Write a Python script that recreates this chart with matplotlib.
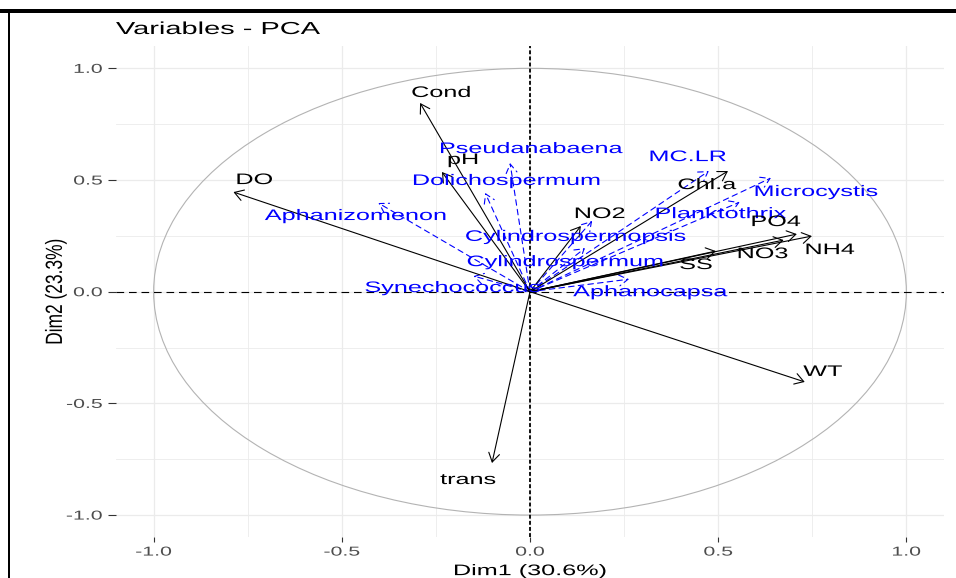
import matplotlib
matplotlib.use("Agg")
import matplotlib.pyplot as plt
from matplotlib.patches import FancyArrowPatch, Circle, Rectangle
from matplotlib.patheffects import AbstractPathEffect
from matplotlib.transforms import Affine2D

plt.rcParams["font.family"] = ["Liberation Sans", "DejaVu Sans"]
plt.rcParams["lines.scale_dashes"] = False

# Active variables: loadings on Dim1 / Dim2
active_names = ["Cond", "pH", "DO", "NO2", "Chl.a", "PO4", "NH4", "NO3", "SS", "WT", "trans"]
active_dim1 = [-0.292, -0.234, -0.788, 0.135, 0.526, 0.709, 0.749, 0.674, 0.494, 0.730, -0.101]
active_dim2 = [0.845, 0.536, 0.446, 0.294, 0.540, 0.258, 0.249, 0.231, 0.182, -0.404, -0.767]

# Supplementary variables (cyanobacteria genera and microcystin)
supp_names = ["Pseudanabaena", "Dolichospermum", "Aphanizomenon", "MC.LR", "Microcystis",
              "Planktothrix", "Cylindrospermopsis", "Cylindrospermum", "Synechococcus", "Aphanocapsa"]
supp_dim1 = [-0.053, -0.119, -0.403, 0.475, 0.640, 0.557, 0.165, 0.146, -0.150, 0.263]
supp_dim2 = [0.576, 0.442, 0.397, 0.540, 0.509, 0.401, 0.317, 0.195, 0.070, 0.056]

title = "Variables - PCA"
xlabel = "Dim1 (30.6%)"
ylabel = "Dim2 (23.3%)"
ticks = [-1.0, -0.5, 0.0, 0.5, 1.0]
tick_labels = ["-1.0", "-0.5", "0.0", "0.5", "1.0"]

# label placement relative to the arrow tip, in pixels (right, down)
label_offset = {
    "Cond": (21, -10), "pH": (21, -12), "DO": (21, -12), "NO2": (19, -12),
    "Chl.a": (-21, 14), "PO4": (-21, -12), "NH4": (18, 14), "NO3": (-21, 14),
    "SS": (-20, 14), "WT": (18, -10), "trans": (-24, 17),
    "Pseudanabaena": (21, -14), "Dolichospermum": (21, -12), "Aphanizomenon": (-23, 13),
    "MC.LR": (-21, -14), "Microcystis": (45, 14), "Planktothrix": (-19, 12),
    "Cylindrospermopsis": (-17, 16), "Cylindrospermum": (-20, 14),
    "Synechococcus": (-21, 12), "Aphanocapsa": (21, 13),
}

WIDEN = 1.65


class Widen(AbstractPathEffect):
    """Stretch text glyphs horizontally around an anchor of the ink box."""

    def __init__(self, factor, anchor="center"):
        super().__init__()
        self.factor = factor
        self.anchor = anchor

    def draw_path(self, renderer, gc, tpath, affine, rgbFace=None):
        ext = tpath.get_extents(affine)
        if self.anchor == "left":
            ax0 = ext.x0
        elif self.anchor == "right":
            ax0 = ext.x1
        else:
            ax0 = 0.5 * (ext.x0 + ext.x1)
        stretch = Affine2D().translate(-ax0, 0).scale(self.factor, 1).translate(ax0, 0)
        renderer.draw_path(gc, tpath, affine + stretch, rgbFace)


W, H = 956, 578
fig = plt.figure(figsize=(W / 100, H / 100), dpi=100)
left, right, top, bottom = 116, 944, 46, 537.4
ax = fig.add_axes([left / W, 1 - bottom / H, (right - left) / W, (bottom - top) / H])
ax.set_xlim(-1.1, 1.1)
ax.set_ylim(-1.1, 1.1)

for s in ax.spines.values():
    s.set_visible(False)

ax.set_xticks(ticks)
ax.set_yticks(ticks)
ax.set_xticklabels(tick_labels)
ax.set_yticklabels(tick_labels)
ax.set_xticks([-0.75, -0.25, 0.25, 0.75], minor=True)
ax.set_yticks([-0.75, -0.25, 0.25, 0.75], minor=True)
ax.grid(which="major", color="#EBEBEB", lw=0.9)
ax.grid(which="minor", color="#EBEBEB", lw=0.6)
ax.set_axisbelow(True)
ax.tick_params(which="minor", length=0)
ax.tick_params(axis="x", which="major", length=3.6, width=0.8, color="#333333",
               labelsize=9.3, labelcolor="#4D4D4D", pad=3)
ax.tick_params(axis="y", which="major", length=5.8, width=0.8, color="#333333",
               labelsize=9.3, labelcolor="#4D4D4D", pad=4)
for lbl in ax.get_xticklabels():
    lbl.set_path_effects([Widen(WIDEN, "center")])
for lbl in ax.get_yticklabels():
    lbl.set_path_effects([Widen(WIDEN, "right")])

# correlation circle
ax.add_patch(Circle((0, 0), 1.0, fill=False, ec="#B3B3B3", lw=0.8))

# reference lines
ax.axhline(0, color="black", lw=0.8, dashes=(5.5, 3.5))
ax.axvline(0, color="black", lw=1.3, dashes=(2.8, 1.6))


def draw_vars(names, xs, ys, color, ls):
    for name, x, y in zip(names, xs, ys):
        arr = FancyArrowPatch((0, 0), (x, y), arrowstyle="->,head_length=0.45,head_width=0.28",
                              mutation_scale=14, color=color, lw=0.8, linestyle=ls,
                              shrinkA=0, shrinkB=0)
        ax.add_patch(arr)
    for name, x, y in zip(names, xs, ys):
        dx, dy = label_offset[name]
        t = ax.annotate(name, (x, y), xytext=(dx, -dy), textcoords="offset pixels",
                        ha="center", va="center", fontsize=11, color=color)
        t.set_path_effects([Widen(WIDEN, "center")])


draw_vars(supp_names, supp_dim1, supp_dim2, "blue", (0, (4, 3)))
draw_vars(active_names, active_dim1, active_dim2, "black", "-")

t = ax.set_xlabel(xlabel, fontsize=11, color="black", labelpad=4)
t.set_path_effects([Widen(WIDEN, "center")])
t = ax.set_ylabel(ylabel, fontsize=12.5, color="black", labelpad=12)
t.set_path_effects([Widen(1.35, "center")])

t = fig.text(116 / W, 1 - 29.5 / H, title, fontsize=12.5, color="black", ha="left", va="center")
t.set_path_effects([Widen(WIDEN + 0.02, "left")])

# page frame
fig.add_artist(Rectangle((0, 1 - 13.3 / H), 1, 4.3 / H, transform=fig.transFigure,
                         color="black", lw=0))
fig.add_artist(Rectangle((8.3 / W, 0), 1.7 / W, 1 - 13 / H, transform=fig.transFigure,
                         color="black", lw=0))

fig.savefig("out.png", dpi=100)
